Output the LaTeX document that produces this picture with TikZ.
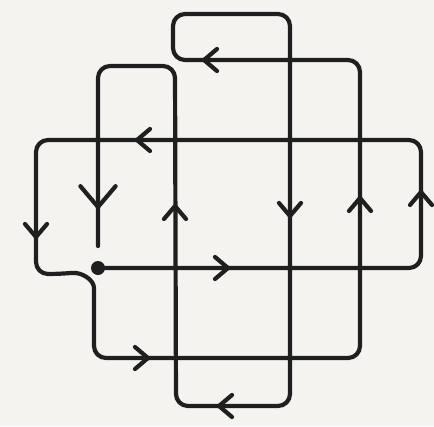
\documentclass[tikz,border=0pt]{standalone}
\begin{document}
\begin{tikzpicture}[x=1pt,y=-1pt,
  ink/.style={draw=black!88, line width=4.2pt, line cap=round, line join=round},
  loop/.style={ink, rounded corners=12pt},
  vhead/.pic={\draw[ink] (-13,-11) -- (0,0) -- (-13,11);}]
\definecolor{paper}{RGB}{245,243,240}
\fill[paper] (0,0) rectangle (434,426);
\useasboundingbox (0,0) rectangle (434,426);
\node[circle, fill=black!88, inner sep=0pt, minimum size=14pt] (start) at (98,268) {};
\coordinate (fin) at (98,246);
\draw[loop] (start.center) -- (421,268) -- (421,140) -- (36,140) -- (36,274) -- (60,274)
  .. controls (82,272) and (94,280) .. (94,300) -- (94,358) -- (360,358) -- (360,60)
  -- (173,60) -- (173,14) -- (290,14) -- (290,406) -- (176,406) -- (175,66)
  -- (98,66) -- (fin);
% arrowheads
\path (228,268) pic {vhead};
\path (421,192) pic[rotate=90] {vhead};
\path (137,140) pic[rotate=180] {vhead};
\path (36,237) pic[rotate=-90] {vhead};
\path (148,358) pic {vhead};
\path (360,198) pic[rotate=90] {vhead};
\path (204,60) pic[rotate=180] {vhead};
\path (290,216) pic[rotate=-90] {vhead};
\path (219,406) pic[rotate=180] {vhead};
\path (175,206) pic[rotate=90] {vhead};
\path (98,207) pic[rotate=-90, scale=1.6] {vhead};
\end{tikzpicture}
\end{document}
